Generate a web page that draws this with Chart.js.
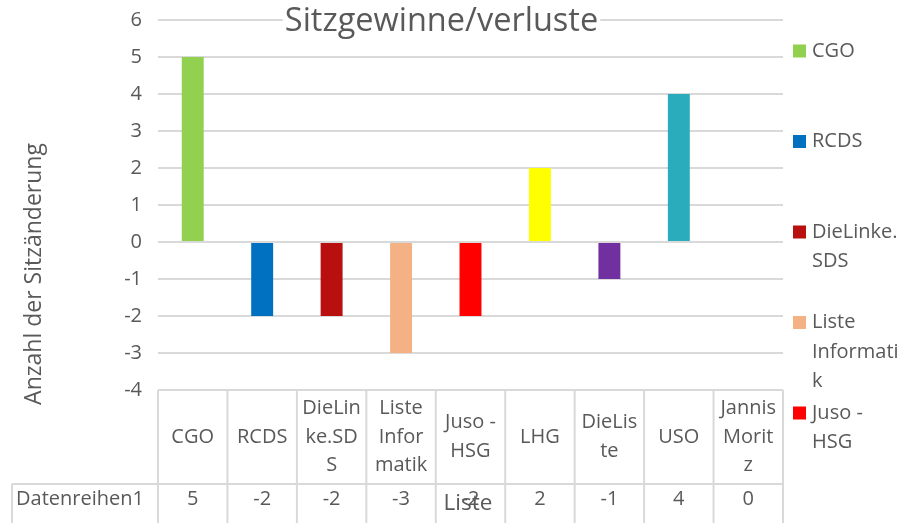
<!DOCTYPE html>
<html>
<head>
<meta charset="utf-8">
<script src="https://cdn.jsdelivr.net/npm/chart.js@4/dist/chart.umd.min.js"></script>
<style>
  html, body { margin: 0; padding: 0; background: #fff; }
  #wrap { width: 916px; height: 523px; }
</style>
</head>
<body>
<div id="wrap"><canvas id="myChart" width="916" height="523"></canvas></div>
<script>
"use strict";

const chartTitle = "Sitzgewinne/verluste";
const yTitle = "Anzahl der Sitzänderung";
const xTitle = "Liste";
const seriesName = "Datenreihen1";

const categories = ["CGO", "RCDS", "DieLinke.SDS", "Liste Informatik", "Juso - HSG", "LHG", "DieListe", "USO", "Jannis Moritz"];
const seatChange = [5, -2, -2, -3, -2, 2, -1, 4, 0];
const barColors = ["#92D050", "#0070C0", "#B80F0F", "#F4B284", "#FF0000", "#FFFF00", "#7030A0", "#2BACBD", "#A5A5A5"];
// wrapped labels as they show in the data table and legend
const tableLabels = ["CGO", "RCDS", "DieLin\nke.SD\nS", "Liste\nInfor\nmatik", "Juso -\nHSG", "LHG", "DieLis\nte", "USO", "Jannis\nMorit\nz"];
const legendLabels = ["CGO", "RCDS", "DieLinke.\nSDS", "Liste\nInformati\nk", "Juso -\nHSG", "LHG", "DieListe", "USO", "Jannis\nMoritz"];

const FONT = "'Open Sans', sans-serif";
const TEXT = "#595959";
const GRID = "#D9D9D9";

// Draw title, axis titles, data table and legend like the spreadsheet chart
const excelBits = {
  id: "excelBits",
  afterDraw(chart) {
    const ctx = chart.ctx;
    const area = chart.chartArea;
    const xs = chart.scales.x;
    const colW = (area.right - area.left) / categories.length;
    ctx.save();

    // title with white box over the top gridline
    ctx.font = "32.5px " + FONT;
    const tw = ctx.measureText(chartTitle).width;
    const tx = (area.left + area.right) / 2 - 29;
    ctx.fillStyle = "#fff";
    ctx.fillRect(tx - tw / 2 - 2, 6, tw + 4, 32);
    ctx.fillStyle = TEXT;
    ctx.textAlign = "center";
    ctx.textBaseline = "middle";
    ctx.fillText(chartTitle, tx, 22);

    // y axis title
    ctx.save();
    ctx.translate(34, 274);
    ctx.rotate(-Math.PI / 2);
    ctx.font = "23px " + FONT;
    ctx.fillText(yTitle, 0, 0);
    ctx.restore();

    // data table
    const top = area.bottom;
    const mid = top + 94;
    const bottom = 530;
    const labelLeft = 12;
    ctx.strokeStyle = GRID;
    ctx.lineWidth = 2;
    ctx.beginPath();
    ctx.moveTo(area.left, top); ctx.lineTo(area.right, top);
    ctx.moveTo(labelLeft, mid); ctx.lineTo(area.right, mid);
    ctx.moveTo(labelLeft, mid); ctx.lineTo(labelLeft, bottom);
    for (let i = 0; i <= categories.length; i++) {
      const x = area.left + i * colW;
      ctx.moveTo(x, top); ctx.lineTo(x, bottom);
    }
    ctx.stroke();

    ctx.fillStyle = TEXT;
    ctx.font = "20px " + FONT;
    const lineH = 28.5;
    categories.forEach((c, i) => {
      const cx = xs.getPixelForValue(i);
      const lines = tableLabels[i].split("\n");
      const y0 = (top + mid) / 2 - (lines.length - 1) * lineH / 2;
      lines.forEach((ln, j) => ctx.fillText(ln, cx, y0 + j * lineH));
      ctx.fillText(String(seatChange[i]), cx, mid + 15);
    });
    ctx.textAlign = "left";
    ctx.fillText(seriesName, 16, mid + 15);

    // x axis title, sits over the table like in the original
    ctx.textAlign = "center";
    ctx.font = "22.5px " + FONT;
    ctx.fillText(xTitle, (area.left + area.right) / 2 - 2.5, mid + 20);

    // legend on the right, entries that do not fit are dropped
    ctx.font = "20px " + FONT;
    ctx.textAlign = "left";
    const slot = 90.5;
    const legTop = 51;
    legendLabels.forEach((lbl, i) => {
      const y = legTop + i * slot;
      const lines = lbl.split("\n");
      if (y + (lines.length - 1) * 29.5 > 460) return;
      ctx.fillStyle = barColors[i];
      ctx.fillRect(793, y - 6.5, 13, 13);
      ctx.fillStyle = TEXT;
      lines.forEach((ln, j) => ctx.fillText(ln, 812, y + j * 29.5));
    });

    ctx.restore();
  }
};

const config = {
  type: "bar",
  data: {
    labels: categories,
    datasets: [{
      label: seriesName,
      data: seatChange,
      backgroundColor: barColors,
      borderWidth: 0,
      categoryPercentage: 1,
      barPercentage: 0.316,
    }],
  },
  options: {
    responsive: false,
    animation: false,
    layout: { padding: { top: 20, right: 133, bottom: 0, left: 0 } },
    plugins: {
      legend: { display: false },
      title: { display: false },
      tooltip: { enabled: false },
    },
    scales: {
      x: {
        grid: { display: false },
        border: { display: false },
        ticks: { display: false },
        afterFit: (s) => { s.height = 133; },
      },
      y: {
        min: -4,
        max: 6,
        ticks: {
          stepSize: 1,
          padding: 16,
          color: TEXT,
          font: { family: FONT, size: 20 },
        },
        grid: { color: GRID, lineWidth: 2, drawTicks: false },
        border: { display: false },
        afterFit: (s) => {
          s.width = 158;
          s.paddingTop = 0;
          s.paddingBottom = 0;
        },
      },
    },
  },
  plugins: [excelBits],
};

new Chart(document.getElementById("myChart"), config);
</script>
</body>
</html>
